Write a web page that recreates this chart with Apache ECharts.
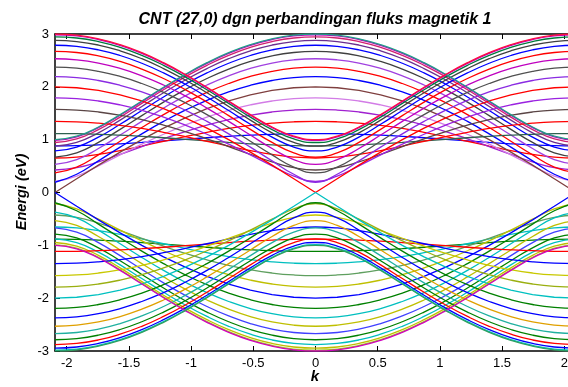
<!DOCTYPE html>
<html><head><meta charset="utf-8">
<script src="https://cdn.jsdelivr.net/npm/echarts@6/dist/echarts.min.js"></script>
<style>html,body{margin:0;padding:0;background:#fff;overflow:hidden;width:568px;height:387px}#c{width:576px;height:387px}</style>
</head><body><div id="c"></div><script>
const titleText = 'CNT (27,0) dgn perbandingan fluks magnetik 1';
const xLabel = 'k';
const yLabel = 'Energi (eV)';
const xTickValues = [-2, -1.5, -1, -0.5, 0, 0.5, 1, 1.5, 2];
const yTickValues = [-3, -2, -1, 0, 1, 2, 3];
const kValues = [-2.0944,-1.9199,-1.7453,-1.5708,-1.3963,-1.2217,-1.0472,-0.8727,-0.6981,-0.5236,-0.3491,-0.1745,0,0.1745,0.3491,0.5236,0.6981,0.8727,1.0472,1.2217,1.3963,1.5708,1.7453,1.9199,2.0944];

// conduction subbands (index = subband q), energies read along kValues
const conductionBands = [
[1,1.066,1.239,1.474,1.732,1.991,2.236,2.457,2.646,2.798,2.909,2.977,3,2.977,2.909,2.798,2.646,2.457,2.236,1.991,1.732,1.474,1.239,1.066,1],
[0.986,1.053,1.227,1.462,1.72,1.979,2.224,2.444,2.633,2.785,2.896,2.964,2.986,2.964,2.896,2.785,2.633,2.444,2.224,1.979,1.72,1.462,1.227,1.053,0.986],
[0.946,1.014,1.19,1.427,1.686,1.944,2.188,2.407,2.595,2.746,2.856,2.924,2.946,2.924,2.856,2.746,2.595,2.407,2.188,1.944,1.686,1.427,1.19,1.014,0.946],
[0.879,0.949,1.13,1.369,1.629,1.887,2.129,2.346,2.532,2.681,2.791,2.857,2.879,2.857,2.791,2.681,2.532,2.346,2.129,1.887,1.629,1.369,1.13,0.949,0.879],
[0.787,0.861,1.048,1.291,1.551,1.808,2.048,2.263,2.446,2.593,2.7,2.765,2.787,2.765,2.7,2.593,2.446,2.263,2.048,1.808,1.551,1.291,1.048,0.861,0.787],
[0.671,0.751,0.948,1.195,1.456,1.711,1.947,2.158,2.337,2.481,2.586,2.65,2.671,2.65,2.586,2.481,2.337,2.158,1.947,1.711,1.456,1.195,0.948,0.751,0.671],
[0.532,0.623,0.833,1.087,1.347,1.598,1.83,2.035,2.209,2.348,2.45,2.511,2.532,2.511,2.45,2.348,2.209,2.035,1.83,1.598,1.347,1.087,0.833,0.623,0.532],
[0.372,0.482,0.712,0.971,1.229,1.474,1.698,1.896,2.063,2.197,2.294,2.353,2.372,2.353,2.294,2.197,2.063,1.896,1.698,1.474,1.229,0.971,0.712,0.482,0.372],
[0.194,0.345,0.598,0.859,1.11,1.345,1.558,1.745,1.903,2.029,2.12,2.176,2.194,2.176,2.12,2.029,1.903,1.745,1.558,1.345,1.11,0.859,0.598,0.345,0.194],
[0,0.261,0.518,0.765,1,1.218,1.414,1.587,1.732,1.848,1.932,1.983,2,1.983,1.932,1.848,1.732,1.587,1.414,1.218,1,0.765,0.518,0.261,0],
[0.208,0.312,0.505,0.712,0.914,1.103,1.276,1.427,1.556,1.658,1.732,1.777,1.792,1.777,1.732,1.658,1.556,1.427,1.276,1.103,0.914,0.712,0.505,0.312,0.208],
[0.426,0.47,0.579,0.72,0.869,1.016,1.153,1.275,1.379,1.463,1.524,1.561,1.574,1.561,1.524,1.463,1.379,1.275,1.153,1.016,0.869,0.72,0.579,0.47,0.426],
[0.653,0.671,0.72,0.793,0.879,0.97,1.059,1.14,1.212,1.27,1.312,1.338,1.347,1.338,1.312,1.27,1.212,1.14,1.059,0.97,0.879,0.793,0.72,0.671,0.653],
[0.884,0.888,0.901,0.921,0.947,0.976,1.007,1.036,1.063,1.085,1.102,1.113,1.116,1.113,1.102,1.085,1.063,1.036,1.007,0.976,0.947,0.921,0.901,0.888,0.884],
[1.116,1.113,1.102,1.085,1.063,1.036,1.007,0.976,0.947,0.921,0.901,0.888,0.884,0.888,0.901,0.921,0.947,0.976,1.007,1.036,1.063,1.085,1.102,1.113,1.116],
[1.347,1.338,1.312,1.27,1.212,1.14,1.059,0.97,0.879,0.793,0.72,0.671,0.653,0.671,0.72,0.793,0.879,0.97,1.059,1.14,1.212,1.27,1.312,1.338,1.347],
[1.574,1.561,1.524,1.463,1.379,1.275,1.153,1.016,0.869,0.72,0.579,0.47,0.426,0.47,0.579,0.72,0.869,1.016,1.153,1.275,1.379,1.463,1.524,1.561,1.574],
[1.792,1.777,1.732,1.658,1.556,1.427,1.276,1.103,0.914,0.712,0.505,0.312,0.208,0.312,0.505,0.712,0.914,1.103,1.276,1.427,1.556,1.658,1.732,1.777,1.792],
[2,1.983,1.932,1.848,1.732,1.587,1.414,1.218,1,0.765,0.518,0.261,0,0.261,0.518,0.765,1,1.218,1.414,1.587,1.732,1.848,1.932,1.983,2],
[2.194,2.176,2.12,2.029,1.903,1.745,1.558,1.345,1.11,0.859,0.598,0.345,0.194,0.345,0.598,0.859,1.11,1.345,1.558,1.745,1.903,2.029,2.12,2.176,2.194],
[2.372,2.353,2.294,2.197,2.063,1.896,1.698,1.474,1.229,0.971,0.712,0.482,0.372,0.482,0.712,0.971,1.229,1.474,1.698,1.896,2.063,2.197,2.294,2.353,2.372],
[2.532,2.511,2.45,2.348,2.209,2.035,1.83,1.598,1.347,1.087,0.833,0.623,0.532,0.623,0.833,1.087,1.347,1.598,1.83,2.035,2.209,2.348,2.45,2.511,2.532],
[2.671,2.65,2.586,2.481,2.337,2.158,1.947,1.711,1.456,1.195,0.948,0.751,0.671,0.751,0.948,1.195,1.456,1.711,1.947,2.158,2.337,2.481,2.586,2.65,2.671],
[2.787,2.765,2.7,2.593,2.446,2.263,2.048,1.808,1.551,1.291,1.048,0.861,0.787,0.861,1.048,1.291,1.551,1.808,2.048,2.263,2.446,2.593,2.7,2.765,2.787],
[2.879,2.857,2.791,2.681,2.532,2.346,2.129,1.887,1.629,1.369,1.13,0.949,0.879,0.949,1.13,1.369,1.629,1.887,2.129,2.346,2.532,2.681,2.791,2.857,2.879],
[2.946,2.924,2.856,2.746,2.595,2.407,2.188,1.944,1.686,1.427,1.19,1.014,0.946,1.014,1.19,1.427,1.686,1.944,2.188,2.407,2.595,2.746,2.856,2.924,2.946],
[2.986,2.964,2.896,2.785,2.633,2.444,2.224,1.979,1.72,1.462,1.227,1.053,0.986,1.053,1.227,1.462,1.72,1.979,2.224,2.444,2.633,2.785,2.896,2.964,2.986],
[3,2.977,2.909,2.798,2.646,2.457,2.236,1.991,1.732,1.474,1.239,1.066,1,1.066,1.239,1.474,1.732,1.991,2.236,2.457,2.646,2.798,2.909,2.977,3]
];

// valence subbands (index = subband q)
const valenceBands = [
[-1,-1.066,-1.239,-1.474,-1.732,-1.991,-2.236,-2.457,-2.646,-2.798,-2.909,-2.977,-3,-2.977,-2.909,-2.798,-2.646,-2.457,-2.236,-1.991,-1.732,-1.474,-1.239,-1.066,-1],
[-0.986,-1.053,-1.227,-1.462,-1.72,-1.979,-2.224,-2.444,-2.633,-2.785,-2.896,-2.964,-2.986,-2.964,-2.896,-2.785,-2.633,-2.444,-2.224,-1.979,-1.72,-1.462,-1.227,-1.053,-0.986],
[-0.946,-1.014,-1.19,-1.427,-1.686,-1.944,-2.188,-2.407,-2.595,-2.746,-2.856,-2.924,-2.946,-2.924,-2.856,-2.746,-2.595,-2.407,-2.188,-1.944,-1.686,-1.427,-1.19,-1.014,-0.946],
[-0.879,-0.949,-1.13,-1.369,-1.629,-1.887,-2.129,-2.346,-2.532,-2.681,-2.791,-2.857,-2.879,-2.857,-2.791,-2.681,-2.532,-2.346,-2.129,-1.887,-1.629,-1.369,-1.13,-0.949,-0.879],
[-0.787,-0.861,-1.048,-1.291,-1.551,-1.808,-2.048,-2.263,-2.446,-2.593,-2.7,-2.765,-2.787,-2.765,-2.7,-2.593,-2.446,-2.263,-2.048,-1.808,-1.551,-1.291,-1.048,-0.861,-0.787],
[-0.671,-0.751,-0.948,-1.195,-1.456,-1.711,-1.947,-2.158,-2.337,-2.481,-2.586,-2.65,-2.671,-2.65,-2.586,-2.481,-2.337,-2.158,-1.947,-1.711,-1.456,-1.195,-0.948,-0.751,-0.671],
[-0.532,-0.623,-0.833,-1.087,-1.347,-1.598,-1.83,-2.035,-2.209,-2.348,-2.45,-2.511,-2.532,-2.511,-2.45,-2.348,-2.209,-2.035,-1.83,-1.598,-1.347,-1.087,-0.833,-0.623,-0.532],
[-0.372,-0.482,-0.712,-0.971,-1.229,-1.474,-1.698,-1.896,-2.063,-2.197,-2.294,-2.353,-2.372,-2.353,-2.294,-2.197,-2.063,-1.896,-1.698,-1.474,-1.229,-0.971,-0.712,-0.482,-0.372],
[-0.194,-0.345,-0.598,-0.859,-1.11,-1.345,-1.558,-1.745,-1.903,-2.029,-2.12,-2.176,-2.194,-2.176,-2.12,-2.029,-1.903,-1.745,-1.558,-1.345,-1.11,-0.859,-0.598,-0.345,-0.194],
[0,-0.261,-0.518,-0.765,-1,-1.218,-1.414,-1.587,-1.732,-1.848,-1.932,-1.983,-2,-1.983,-1.932,-1.848,-1.732,-1.587,-1.414,-1.218,-1,-0.765,-0.518,-0.261,0],
[-0.208,-0.312,-0.505,-0.712,-0.914,-1.103,-1.276,-1.427,-1.556,-1.658,-1.732,-1.777,-1.792,-1.777,-1.732,-1.658,-1.556,-1.427,-1.276,-1.103,-0.914,-0.712,-0.505,-0.312,-0.208],
[-0.426,-0.47,-0.579,-0.72,-0.869,-1.016,-1.153,-1.275,-1.379,-1.463,-1.524,-1.561,-1.574,-1.561,-1.524,-1.463,-1.379,-1.275,-1.153,-1.016,-0.869,-0.72,-0.579,-0.47,-0.426],
[-0.653,-0.671,-0.72,-0.793,-0.879,-0.97,-1.059,-1.14,-1.212,-1.27,-1.312,-1.338,-1.347,-1.338,-1.312,-1.27,-1.212,-1.14,-1.059,-0.97,-0.879,-0.793,-0.72,-0.671,-0.653],
[-0.884,-0.888,-0.901,-0.921,-0.947,-0.976,-1.007,-1.036,-1.063,-1.085,-1.102,-1.113,-1.116,-1.113,-1.102,-1.085,-1.063,-1.036,-1.007,-0.976,-0.947,-0.921,-0.901,-0.888,-0.884],
[-1.116,-1.113,-1.102,-1.085,-1.063,-1.036,-1.007,-0.976,-0.947,-0.921,-0.901,-0.888,-0.884,-0.888,-0.901,-0.921,-0.947,-0.976,-1.007,-1.036,-1.063,-1.085,-1.102,-1.113,-1.116],
[-1.347,-1.338,-1.312,-1.27,-1.212,-1.14,-1.059,-0.97,-0.879,-0.793,-0.72,-0.671,-0.653,-0.671,-0.72,-0.793,-0.879,-0.97,-1.059,-1.14,-1.212,-1.27,-1.312,-1.338,-1.347],
[-1.574,-1.561,-1.524,-1.463,-1.379,-1.275,-1.153,-1.016,-0.869,-0.72,-0.579,-0.47,-0.426,-0.47,-0.579,-0.72,-0.869,-1.016,-1.153,-1.275,-1.379,-1.463,-1.524,-1.561,-1.574],
[-1.792,-1.777,-1.732,-1.658,-1.556,-1.427,-1.276,-1.103,-0.914,-0.712,-0.505,-0.312,-0.208,-0.312,-0.505,-0.712,-0.914,-1.103,-1.276,-1.427,-1.556,-1.658,-1.732,-1.777,-1.792],
[-2,-1.983,-1.932,-1.848,-1.732,-1.587,-1.414,-1.218,-1,-0.765,-0.518,-0.261,0,-0.261,-0.518,-0.765,-1,-1.218,-1.414,-1.587,-1.732,-1.848,-1.932,-1.983,-2],
[-2.194,-2.176,-2.12,-2.029,-1.903,-1.745,-1.558,-1.345,-1.11,-0.859,-0.598,-0.345,-0.194,-0.345,-0.598,-0.859,-1.11,-1.345,-1.558,-1.745,-1.903,-2.029,-2.12,-2.176,-2.194],
[-2.372,-2.353,-2.294,-2.197,-2.063,-1.896,-1.698,-1.474,-1.229,-0.971,-0.712,-0.482,-0.372,-0.482,-0.712,-0.971,-1.229,-1.474,-1.698,-1.896,-2.063,-2.197,-2.294,-2.353,-2.372],
[-2.532,-2.511,-2.45,-2.348,-2.209,-2.035,-1.83,-1.598,-1.347,-1.087,-0.833,-0.623,-0.532,-0.623,-0.833,-1.087,-1.347,-1.598,-1.83,-2.035,-2.209,-2.348,-2.45,-2.511,-2.532],
[-2.671,-2.65,-2.586,-2.481,-2.337,-2.158,-1.947,-1.711,-1.456,-1.195,-0.948,-0.751,-0.671,-0.751,-0.948,-1.195,-1.456,-1.711,-1.947,-2.158,-2.337,-2.481,-2.586,-2.65,-2.671],
[-2.787,-2.765,-2.7,-2.593,-2.446,-2.263,-2.048,-1.808,-1.551,-1.291,-1.048,-0.861,-0.787,-0.861,-1.048,-1.291,-1.551,-1.808,-2.048,-2.263,-2.446,-2.593,-2.7,-2.765,-2.787],
[-2.879,-2.857,-2.791,-2.681,-2.532,-2.346,-2.129,-1.887,-1.629,-1.369,-1.13,-0.949,-0.879,-0.949,-1.13,-1.369,-1.629,-1.887,-2.129,-2.346,-2.532,-2.681,-2.791,-2.857,-2.879],
[-2.946,-2.924,-2.856,-2.746,-2.595,-2.407,-2.188,-1.944,-1.686,-1.427,-1.19,-1.014,-0.946,-1.014,-1.19,-1.427,-1.686,-1.944,-2.188,-2.407,-2.595,-2.746,-2.856,-2.924,-2.946],
[-2.986,-2.964,-2.896,-2.785,-2.633,-2.444,-2.224,-1.979,-1.72,-1.462,-1.227,-1.053,-0.986,-1.053,-1.227,-1.462,-1.72,-1.979,-2.224,-2.444,-2.633,-2.785,-2.896,-2.964,-2.986],
[-3,-2.977,-2.909,-2.798,-2.646,-2.457,-2.236,-1.991,-1.732,-1.474,-1.239,-1.066,-1,-1.066,-1.239,-1.474,-1.732,-1.991,-2.236,-2.457,-2.646,-2.798,-2.909,-2.977,-3]
];

const conductionColors = ['#1f9e89','#bf00bf','#d0206f','#6b2f8f','#0000ff','#404040','#a040e0','#ff0000','#0000ff','#7f3f3f','#d27ce6','#a020d0','#ff0000','#0000ff','#2f5f4f','#ff0000','#5a4545','#9a22e0','#ff0000','#8a2be2','#505050','#bf00bf','#ff0000','#0000ff','#404040','#007a3d','#bf00bf','#ff0f3f'];
const valenceColors = ['#d000c0','#a8c820','#bfbf00','#00bfbf','#008000','#4040ff','#bfbf00','#00bfbf','#008000','#0000ff','#bfbf00','#5f9f5f','#00bfbf','#008000','#ff0000','#0000ff','#c8c800','#9aaf10','#00c0c0','#008000','#0000ff','#e0a000','#20b0a0','#008000','#ff0000','#0000ff','#00bfbf','#30a060'];
const drawOrder = [13,12,11,10,9,8,7,6,5,4,3,2,1,14,15,16,17,18,19,20,21,22,23,24,25,26,0,27];

const series = [];
function addBands(bands, colors) {
  drawOrder.forEach(q => {
    series.push({
      type: 'line',
      data: kValues.map((k, i) => [k, bands[q][i]]),
      showSymbol: false,
      smooth: (q === 9 || q === 18) ? false : 0.5,
      lineStyle: { color: colors[q], width: 1.3 },
      itemStyle: { color: colors[q] },
      silent: true,
      animation: false,
      z: 2
    });
  });
}
addBands(conductionBands, conductionColors);
addBands(valenceBands, valenceColors);

const labelFont = { color: '#000', fontSize: 13, fontFamily: '"Liberation Sans", Arial, sans-serif' };
const chart = echarts.init(document.getElementById('c'), null, { renderer: 'canvas' });
chart.setOption({
  backgroundColor: '#fff',
  animation: false,
  grid: { left: 55, right: 0, top: 34, bottom: 36, containLabel: false },
  xAxis: [
    { type: 'value', min: -2.0944, max: 2.0944, position: 'bottom', splitNumber: 8,
      axisLine: { show: true, onZero: false, lineStyle: { color: '#000', width: 1.5 } },
      axisTick: { show: true, inside: true, length: 5, customValues: xTickValues, lineStyle: { color: '#000' } },
      axisLabel: Object.assign({ margin: 6, customValues: xTickValues,
        formatter: v => (Math.abs(v * 2 - Math.round(v * 2)) < 1e-6 ? String(v) : '') }, labelFont),
      splitLine: { show: false } },
    { type: 'value', min: -2.0944, max: 2.0944, position: 'top', splitNumber: 8,
      axisLine: { show: true, onZero: false, lineStyle: { color: '#000', width: 1.5 } },
      axisTick: { show: true, inside: true, length: 5, customValues: xTickValues, lineStyle: { color: '#000' } },
      axisLabel: { show: false },
      splitLine: { show: false } }
  ],
  yAxis: [
    { type: 'value', min: -3, max: 3, interval: 1, position: 'left',
      axisLine: { show: true, onZero: false, lineStyle: { color: '#000', width: 1.5 } },
      axisTick: { show: true, inside: true, length: 5, lineStyle: { color: '#000' } },
      axisLabel: Object.assign({ margin: 6 }, labelFont),
      splitLine: { show: false } }
  ],
  series: series,
  graphic: [
    { type: 'text', x: 315, y: 20, silent: true,
      style: { text: titleText, fill: '#000', align: 'center', verticalAlign: 'middle',
        font: 'italic bold 16px "Liberation Sans", Arial, sans-serif' } },
    { type: 'text', x: 315, y: 377, silent: true,
      style: { text: xLabel, fill: '#000', align: 'center', verticalAlign: 'middle',
        font: 'italic bold 15px "Liberation Sans", Arial, sans-serif' } },
    { type: 'text', x: 22, y: 192, rotation: Math.PI / 2, silent: true,
      style: { text: yLabel, fill: '#000', align: 'center', verticalAlign: 'middle',
        font: 'italic bold 14.5px "Liberation Sans", Arial, sans-serif' } }
  ]
});
</script></body></html>
